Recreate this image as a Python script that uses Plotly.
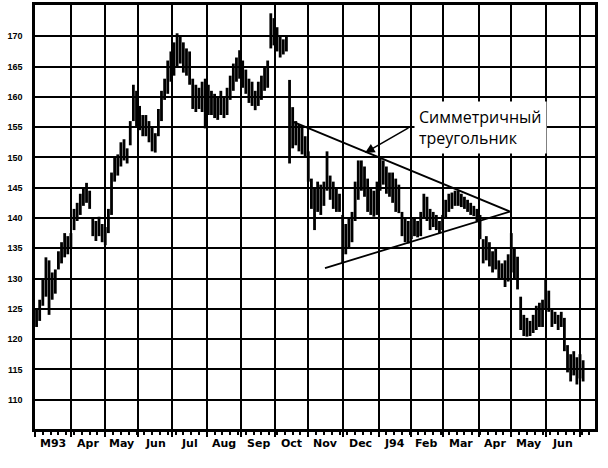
import plotly.graph_objects as go

# ---- axis categories -------------------------------------------------------
month_labels = ["M93", "Apr", "May", "Jun", "Jul", "Aug", "Sep", "Oct",
                "Nov", "Dec", "J94", "Feb", "Mar", "Apr", "May", "Jun"]
# trading (week) days per month -> width of each month on the bar axis
month_days = [23, 22, 21, 22, 22, 22, 22, 21, 22, 23, 21, 20, 23, 21, 22, 22]
y_ticks = [110, 115, 120, 125, 130, 135, 140, 145, 150, 155, 160, 165, 170]

# ---- price bars (one bar per two trading days) ------------------------------
high = [
    125, 126.5, 130, 133.5, 133, 131, 131.5, 134.5, 136, 137.5, 137, 137.5,      # Mar 93
    141.5, 142.5, 144, 145, 145.8, 144.5, 140, 139.5, 140.2, 139, 138.5,          # Apr
    141.5, 147.5, 150, 150.5, 152.5, 153, 151.5, 156, 162, 161, 158.5,            # May
    157, 157, 156, 155, 154, 158, 161, 163, 166, 167.5,                           # Jun
    169, 170.5, 170, 169, 168, 167.5, 163, 162, 161.5, 162.5, 163, 162,           # Jul
    161, 160.5, 160, 161, 160, 161.5, 163.5, 165.5, 166.5, 167.7,                 # Aug
    166, 164.5, 163, 162.5, 161, 162.5, 163.5, 165, 166, 173.8, 173,              # Sep
    171.5, 170, 169.5, 170, 162.8, 158.3, 156, 155.5, 155, 153.5, 151,            # Oct
    146.5, 145, 146, 145.5, 146, 151, 147, 146, 145, 144, 140.5,                  # Nov
    139, 140, 141, 146, 149.5, 149.5, 148.5, 146.5, 145, 144.5, 146,              # Dec
    150, 149.5, 148.5, 147.5, 147.5, 146.5, 145.5, 141, 140, 139.5, 140,          # Jan 94
    140, 139.5, 141, 144, 143.5, 141.5, 141, 140.5, 139.5, 140.5,                 # Feb
    143, 144, 144.2, 144.5, 144.5, 144, 143.5, 143, 142.5, 142, 141.5,            # Mar
    140.5, 136.5, 137, 136, 134.5, 135, 133, 132.5, 133, 134, 137.5,              # Apr
    135, 133.6, 127, 124, 123.5, 123, 124, 125.5, 126, 126.5, 129.8,              # May
    128, 125, 124.5, 124, 124.5, 123.5, 119, 117.5, 118, 117, 117.5, 116.5,       # Jun
]
low = [
    122, 123, 125.5, 127, 124, 126.5, 127.5, 131.5, 132.5, 133.5, 134, 135,
    138, 139.5, 140.5, 142, 142.5, 141.5, 137, 136.2, 137, 136, 135.5,
    137.5, 140.5, 146, 147, 148.5, 149.5, 149, 152, 156, 155, 154.5,
    153.5, 153.5, 152.5, 151, 150.8, 153.5, 156, 159.5, 160.5, 162.5,
    163.5, 165, 165.5, 164, 163.5, 162, 158, 157.5, 158, 157.5, 154.8, 157,
    157, 156.5, 156.2, 157, 156.5, 157, 159.5, 161, 162.5, 163,
    161.5, 160.5, 159, 158.5, 157.8, 158.5, 159.5, 161, 161.5, 168, 168.5,
    167.5, 166.5, 167, 167.5, 149, 151.5, 152, 151, 150.5, 150, 146,
    141.5, 138, 141, 140.5, 142, 144.5, 143, 141.5, 141, 141, 132.6,
    134, 135, 136, 139.5, 143, 144.5, 143.5, 141, 140.5, 140.2, 140.5,
    144.5, 145.5, 144, 143.5, 142.5, 141, 140.8, 137, 136, 135.8, 136.5,
    137, 136.8, 137, 140, 139.5, 138, 138.5, 138, 137.5, 138,
    140, 141, 141.5, 142, 142, 141.8, 141.5, 141, 140.5, 140.3, 139.5,
    136.5, 132.5, 133, 132, 131, 131.5, 129.8, 130, 128.6, 129.5, 131,
    130, 128.2, 121.5, 120.5, 120.4, 120.5, 121, 121.5, 122, 122, 125,
    124.5, 122, 122.5, 121.5, 122, 118, 114.5, 113, 114, 112.5, 113.5, 113,
]
assert len(high) == len(low)
bar_day = [2 * i for i in range(len(high))]   # trading-day index of each bar

# ---- symmetric triangle (upper start, apex, lower start) -------------------
tri_day = [164.6, 304.2, 185.7]
tri_val = [155.94, 141.06, 131.72]

# ---- derived axis positions -------------------------------------------------
bounds = [0]
for n in month_days:
    bounds.append(bounds[-1] + n)
centers = [(bounds[i] + bounds[i + 1]) / 2 for i in range(len(month_days))]

fig = go.Figure()

xs, ys = [], []
for d, h, l in zip(bar_day, high, low):
    xs += [d + 1, d + 1, None]
    ys += [l, h, None]
fig.add_trace(go.Scatter(x=xs, y=ys, mode="lines",
                         line=dict(color="black", width=2.8),
                         hoverinfo="skip", showlegend=False))

fig.add_trace(go.Scatter(x=tri_day, y=tri_val, mode="lines",
                         line=dict(color="black", width=1.8),
                         hoverinfo="skip", showlegend=False))

# month labels
for c, lab in zip(centers, month_labels):
    fig.add_annotation(x=c, y=0, xref="x", yref="paper", text=lab,
                       showarrow=False, yanchor="top", yshift=-6,
                       font=dict(family="DejaVu Sans", size=11, color="black",
                                 weight="bold"))

# arrow to the triangle
fig.add_annotation(x=211.3, y=150.74, ax=240.1, ay=155.03,
                   xref="x", yref="y", axref="x", ayref="y",
                   text="", showarrow=True, arrowhead=2, arrowsize=1.2,
                   arrowwidth=1.6, arrowcolor="black")
fig.add_annotation(x=242.5, y=154.9, xref="x", yref="y",
                   text="Симметричный<br>треугольник", showarrow=False,
                   xanchor="left", yanchor="middle", align="left",
                   bgcolor="white", borderpad=4,
                   font=dict(family="Open Sans", size=16, color="black"))

fig.update_xaxes(
    range=[0, 358.6], tickmode="array", tickvals=bounds, showticklabels=False,
    ticks="outside", ticklen=5, tickwidth=2, tickcolor="black",
    showgrid=True, gridcolor="black", gridwidth=2,
    showline=True, linecolor="black", linewidth=3, mirror=True,
    zeroline=False,
    minor=dict(tick0=0, dtick=5, ticks="outside", ticklen=3,
               tickwidth=1.5, tickcolor="black", showgrid=False),
)
fig.update_yaxes(
    range=[105.15, 175.17], tickmode="array", tickvals=y_ticks,
    ticks="", showgrid=True, gridcolor="black", gridwidth=2,
    showline=True, linecolor="black", linewidth=2.5, mirror=True,
    zeroline=False, ticklabelstandoff=8,
    tickfont=dict(family="Liberation Sans", size=9, color="black",
                  weight="bold"),
)
fig.update_layout(
    width=608, height=468,
    margin=dict(l=35, r=13, t=5, b=39, autoexpand=False),
    paper_bgcolor="white", plot_bgcolor="white",
    showlegend=False,
)
fig.write_html("out.html",
               config={"displayModeBar": False},
               post_script="document.body.style.margin='0';"
                           "document.body.style.padding='0';")
